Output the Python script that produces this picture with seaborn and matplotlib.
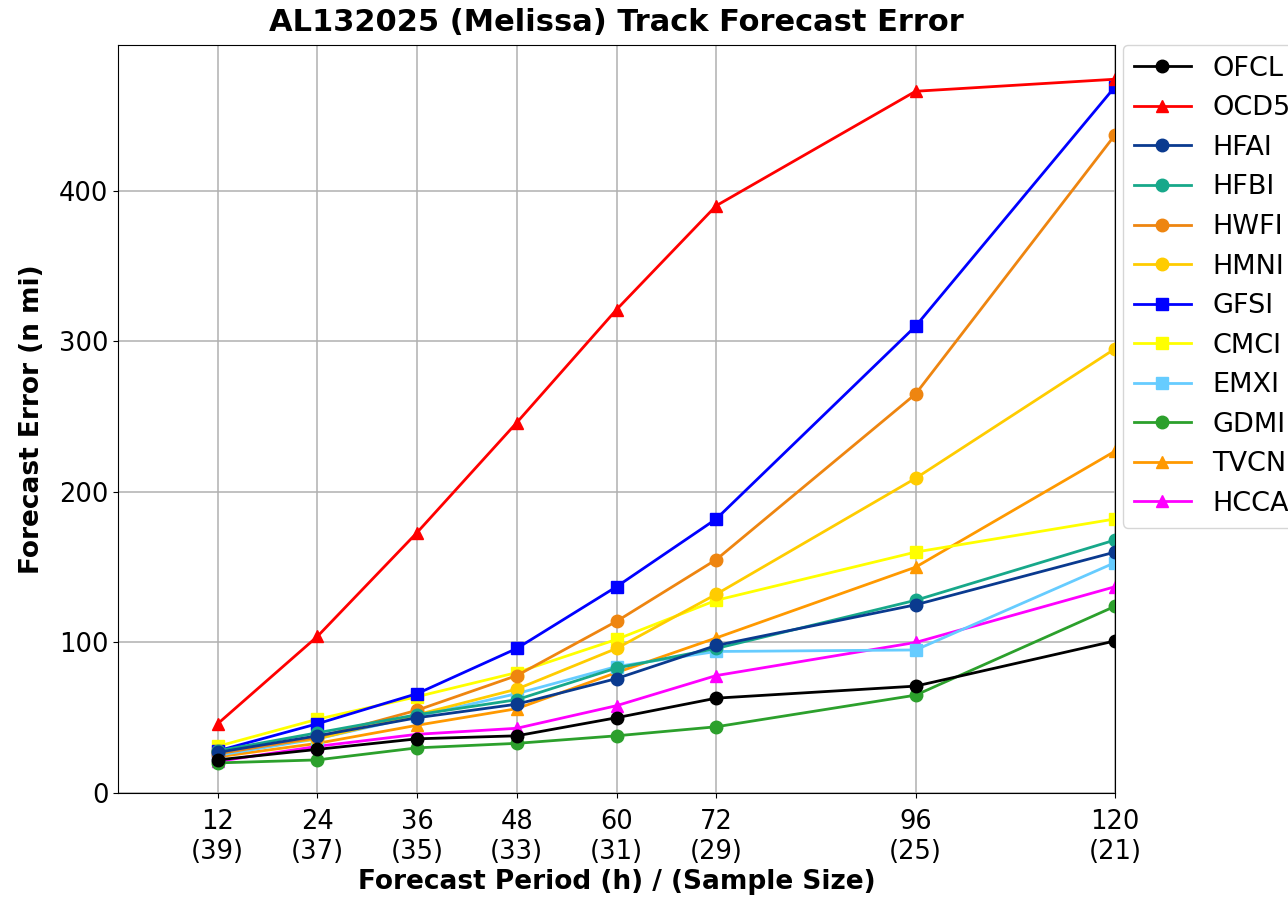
import matplotlib
matplotlib.use("Agg")
import matplotlib.pyplot as plt
import seaborn as sns
import pandas as pd

hours = [12, 24, 36, 48, 60, 72, 96, 120]
sample_size = [39, 37, 35, 33, 31, 29, 25, 21]

ofcl = [22, 29, 36, 38, 50, 63, 71, 101]
ocd5 = [46, 104, 173, 246, 321, 390, 466, 474]
hfai = [27, 38, 50, 59, 76, 98, 125, 160]
hfbi = [28, 40, 52, 62, 83, 96, 128, 168]
hwfi = [26, 37, 55, 78, 114, 155, 265, 437]
hmni = [28, 36, 52, 69, 96, 132, 209, 295]
gfsi = [28, 46, 66, 96, 137, 182, 310, 469]
cmci = [31, 49, 64, 80, 102, 128, 160, 182]
emxi = [25, 36, 51, 66, 84, 94, 95, 153]
gdmi = [20, 22, 30, 33, 38, 44, 65, 124]
tvcn = [24, 33, 45, 56, 80, 103, 150, 227]
hcca = [21, 31, 39, 43, 58, 78, 100, 137]

models = ["OFCL", "OCD5", "HFAI", "HFBI", "HWFI", "HMNI", "GFSI", "CMCI", "EMXI", "GDMI", "TVCN", "HCCA"]
errors = [ofcl, ocd5, hfai, hfbi, hwfi, hmni, gfsi, cmci, emxi, gdmi, tvcn, hcca]
colors = ["black", "red", "#0a3a8f", "#17a88a", "#ee8510", "#ffcc00", "#0000ff",
          "#ffff00", "#66ccff", "#2ca02c", "#ff9900", "#ff00ff"]
markers = ["o", "^", "o", "o", "o", "o", "s", "s", "s", "o", "^", "^"]

fig = plt.figure(figsize=(12.88, 8.97), dpi=100)
ax = fig.add_axes([0.0916, 0.1159, 0.7741, 0.8339])

# draw last legend entry first so OFCL ends up on top
for i in reversed(range(len(models))):
    df = pd.DataFrame({"hour": hours, "err": errors[i]})
    sns.lineplot(data=df, x="hour", y="err", color=colors[i], marker=markers[i],
                 markersize=9, markeredgecolor=colors[i], markeredgewidth=1,
                 linewidth=2, label=models[i], ax=ax)

ax.set_xlim(0, 120)
ax.set_ylim(bottom=0)
ax.set_xticks(hours)
ax.set_xticklabels([f"{h}\n({n})" for h, n in zip(hours, sample_size)])
ax.tick_params(labelsize=18.5)
ax.tick_params(axis="x", pad=8)
ax.grid(True, color="#b0b0b0", linewidth=1.1)

ax.set_xlabel("Forecast Period (h) / (Sample Size)", fontsize=19, fontweight="bold", labelpad=3)
ax.set_ylabel("Forecast Error (n mi)", fontsize=19, fontweight="bold", labelpad=10)
ax.set_title("AL132025 (Melissa) Track Forecast Error", fontsize=22, fontweight="bold", pad=10)

handles, labels = ax.get_legend_handles_labels()
ax.legend(handles[::-1], labels[::-1], loc="upper left", bbox_to_anchor=(1.008, 1.0),
          borderaxespad=0, fontsize=19.5, handlelength=2.1)

fig.savefig("out.png", dpi=100)
